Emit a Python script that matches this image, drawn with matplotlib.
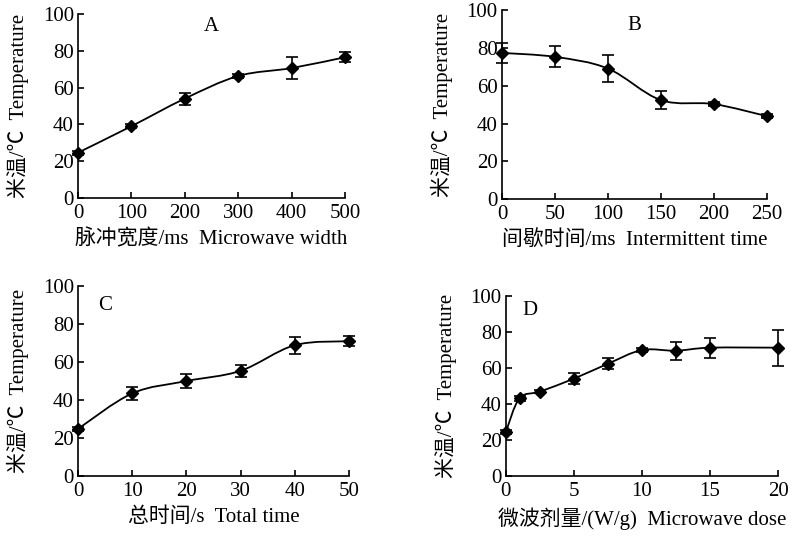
import numpy as np
import matplotlib.pyplot as plt
from matplotlib.path import Path
from matplotlib.patches import PathPatch

plt.rcParams['font.family'] = ['Liberation Serif', 'Noto Sans CJK SC']
plt.rcParams['font.size'] = 15

# A: pulse width
x_a = [0, 100, 200, 300, 400, 500]
y_a = [24.6, 39.0, 54.0, 66.3, 70.6, 76.5]
e_a = [1.0, 1.0, 3.3, 1.2, 5.9, 2.8]

# B: intermittent time
x_b = [0, 50, 100, 150, 200, 250]
y_b = [77.4, 75.3, 69.1, 52.4, 50.3, 43.9]
e_b = [5.3, 5.6, 7.0, 4.9, 1.0, 1.2]

# C: total time
x_c = [0, 10, 20, 30, 40, 50]
y_c = [24.8, 43.5, 50.0, 55.4, 68.9, 71.0]
e_c = [1.0, 3.3, 3.7, 3.1, 4.4, 2.7]

# D: microwave dose
x_d = [0, 1, 2.5, 5, 7.5, 10, 12.5, 15, 20]
y_d = [24.6, 43.2, 46.9, 54.1, 62.4, 70.0, 69.6, 71.3, 71.3]
e_d = [1.0, 1.5, 1.0, 3.2, 2.9, 1.0, 4.9, 5.6, 10.0]

ylabel = '米温/℃  Temperature'
panels = [
    ('A', x_a, y_a, e_a, [0, 100, 200, 300, 400, 500], '脉冲宽度/ms  Microwave width',
     [0.0977, 0.632, 0.3346, 0.342], (249, 93)),
    ('B', x_b, y_b, e_b, [0, 50, 100, 150, 200, 250], '间歇时间/ms  Intermittent time',
     [0.629, 0.630, 0.332, 0.351], (125, 92)),
    ('C', x_c, y_c, e_c, [0, 10, 20, 30, 40, 50], '总时间/s  Total time',
     [0.0977, 0.1152, 0.3396, 0.353], (5, 90)),
    ('D', x_d, y_d, e_d, [0, 5, 10, 15, 20], '微波剂量/(W/g)  Microwave dose',
     [0.634, 0.1152, 0.341, 0.3346], (1.8, 92)),
]


def smooth_path(x, y):
    # catmull-rom through the points, drawn as bezier segments
    p = np.column_stack([x, y]).astype(float)
    pts = np.vstack([p[0], p, p[-1]])
    verts = [p[0]]
    codes = [Path.MOVETO]
    for i in range(1, len(pts) - 2):
        c1 = pts[i] + (pts[i + 1] - pts[i - 1]) / 6
        c2 = pts[i + 1] - (pts[i + 2] - pts[i]) / 6
        verts += [c1, c2, pts[i + 1]]
        codes += [Path.CURVE4] * 3
    return Path(verts, codes)


fig = plt.figure(figsize=(7.98, 5.38), dpi=100)

for letter, x, y, e, xticks, xlabel, rect, lpos in panels:
    ax = fig.add_axes(rect)
    ax.add_patch(PathPatch(smooth_path(x, y), fill=False, lw=1.3, color='black'))
    ax.errorbar(x, y, yerr=e, fmt='D', color='black', ms=6.5, capsize=4,
                elinewidth=1.2, capthick=1.2, clip_on=False, zorder=3)
    ax.set_xlim(xticks[0], xticks[-1])
    ax.set_ylim(0, 100)
    ax.set_xticks(xticks)
    ax.set_yticks([0, 20, 40, 60, 80, 100])
    for s in ['top', 'right']:
        ax.spines[s].set_visible(False)
    for s in ['left', 'bottom']:
        ax.spines[s].set_linewidth(1.2)
    ax.tick_params(direction='in', length=4, width=1.2)
    ax.tick_params(axis='x', pad=4)
    ax.tick_params(axis='y', pad=3)
    ax.set_xlabel(xlabel, labelpad=5)
    ax.set_ylabel(ylabel, labelpad=10)
    ax.text(lpos[0], lpos[1], letter, ha='center', va='center')

fig.savefig('out.png', dpi=100)
